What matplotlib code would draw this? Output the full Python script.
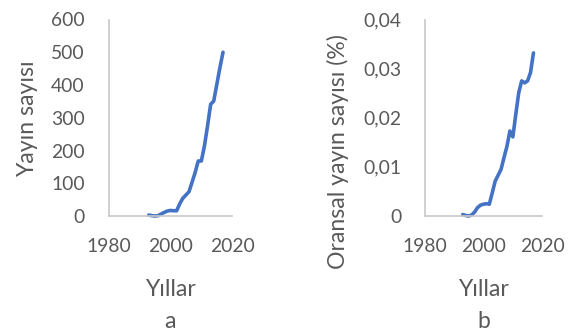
import matplotlib
matplotlib.use("Agg")
import matplotlib.pyplot as plt

plt.rcParams['font.family'] = ['Lato', 'DejaVu Sans']

years = [1993, 1994, 1995, 1996, 1997, 1998, 1999, 2000, 2001, 2002, 2003, 2004,
         2005, 2006, 2007, 2008, 2009, 2010, 2011, 2012, 2013, 2014, 2015, 2016, 2017]
counts = [3, 1, 0, 1, 6, 11, 15, 17, 16, 16, 37, 54,
          64, 74, 103, 133, 168, 168, 214, 275, 341, 351, 402, 453, 500]
ratios = [0.0003, 0.0001, 0.0, 0.0002, 0.0008, 0.0017, 0.0022, 0.0024, 0.0025, 0.0024,
          0.0047, 0.0071, 0.0083, 0.0095, 0.0119, 0.0142, 0.0173, 0.0161, 0.0207,
          0.0251, 0.0275, 0.0271, 0.0275, 0.0292, 0.0332]

x_ticks = [1980, 2000, 2020]
x_tick_labels = ["1980", "2000", "2020"]
a_ticks = [0, 100, 200, 300, 400, 500, 600]
a_tick_labels = ["0", "100", "200", "300", "400", "500", "600"]
b_ticks = [0, 0.01, 0.02, 0.03, 0.04]
b_tick_labels = ["0", "0,01", "0,02", "0,03", "0,04"]

W, H = 574, 331
TEXT = '#595959'
LINE = '#4472C4'
AXC = '#c8c8c8'

fig = plt.figure(figsize=(W / 100, H / 100), dpi=100)

def px(x0, y0, x1, y1):
    return [x0 / W, 1 - y1 / H, (x1 - x0) / W, (y1 - y0) / H]

def style(ax, yticks, ylabels, ylim, ypad):
    ax.set_xlim(1980, 2020)
    ax.set_ylim(*ylim)
    ax.set_xticks(x_ticks)
    ax.set_xticklabels(x_tick_labels)
    ax.set_yticks(yticks)
    ax.set_yticklabels(ylabels)
    for s in ['top', 'right']:
        ax.spines[s].set_visible(False)
    for s in ['left', 'bottom']:
        ax.spines[s].set_color(AXC)
        ax.spines[s].set_linewidth(1.2)
    ax.tick_params(axis='both', length=0, labelsize=13.9, colors=TEXT)
    ax.tick_params(axis='x', pad=15.5)
    ax.tick_params(axis='y', pad=ypad)
    ax.patch.set_alpha(0)

ax1 = fig.add_axes(px(108.5, 19.5, 232.3, 216))
ax1.plot(years, counts, color=LINE, lw=2.6, solid_capstyle='round',
         solid_joinstyle='round', clip_on=False)
style(ax1, a_ticks, a_tick_labels, (0, 600), 17)

ax2 = fig.add_axes(px(424.5, 19.5, 542.3, 216))
ax2.plot(years, ratios, color=LINE, lw=2.6, solid_capstyle='round',
         solid_joinstyle='round', clip_on=False)
style(ax2, b_ticks, b_tick_labels, (0, 0.04), 16.5)

fs = 16.6
fig.text(27.5 / W, 1 - 119 / H, "Yayın sayısı", rotation=90, ha='center', va='center',
         fontsize=fs, color=TEXT)
fig.text(338 / W, 1 - 152 / H, "Oransal yayın sayısı (%)", rotation=90, ha='center',
         va='center', fontsize=fs, color=TEXT)
fig.text(170.4 / W, 1 - 296 / H, "Yıllar", ha='center', va='baseline', fontsize=fs, color=TEXT)
fig.text(483.4 / W, 1 - 296 / H, "Yıllar", ha='center', va='baseline', fontsize=fs, color=TEXT)
fig.text(170.4 / W, 1 - 328 / H, "a", ha='center', va='baseline', fontsize=fs, color=TEXT)
fig.text(483.4 / W, 1 - 328 / H, "b", ha='center', va='baseline', fontsize=fs, color=TEXT)

fig.savefig("out.png", dpi=100)
